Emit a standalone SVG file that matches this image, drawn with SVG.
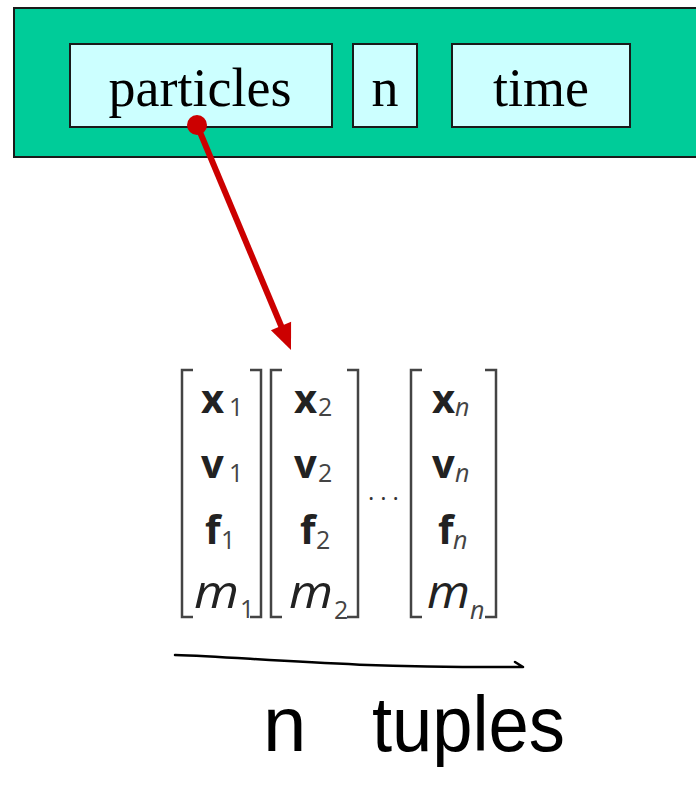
<svg xmlns="http://www.w3.org/2000/svg" width="696" height="791" viewBox="0 0 696 791">
<style>
.box{fill:#CCFFFF;stroke:#1a1a1a;stroke-width:2}
.lbl{font-family:"Liberation Serif",serif;font-size:54px;fill:#000;text-anchor:middle}
.br{fill:none;stroke:#444;stroke-width:2.5}
.vb{font-family:"Open Sans","Noto Sans",sans-serif;font-weight:bold;font-size:40px;fill:#222}
.vm{font-family:"Open Sans","Noto Sans",sans-serif;font-style:italic;font-size:46px;fill:#222}
.sb{font-family:"Open Sans","Noto Sans",sans-serif;font-size:25px;fill:#444}
.si{font-family:"Open Sans","Noto Sans",sans-serif;font-style:italic;font-size:25px;fill:#444}
.hw{font-family:"Liberation Sans",sans-serif;font-size:78px;fill:#000}
</style>
<rect x="0" y="0" width="696" height="791" fill="#fff"/>
<g id="struct">
<rect x="14" y="8" width="690" height="149" fill="#00CC99" stroke="#1a1a1a" stroke-width="2"/>
</g>
<g id="particles"><rect class="box" x="70" y="44" width="262" height="83"/><text class="lbl" x="200" y="106">particles</text></g>
<g id="n"><rect class="box" x="353" y="44" width="64" height="83"/><text class="lbl" x="385" y="106">n</text></g>
<g id="time"><rect class="box" x="452" y="44" width="178" height="83"/><text class="lbl" x="541" y="106">time</text></g>
<g id="connectors">
<circle cx="197" cy="125" r="10" fill="#CC0000"/>
<line x1="197" y1="125" x2="282" y2="328" stroke="#CC0000" stroke-width="6"/>
<polygon points="291,350 270.9,330.2 291.1,321.8" fill="#CC0000"/>
</g>
<g id="tuple1">
<path class="br" d="M193,370 H182 V617 H193"/>
<path class="br" d="M250,370 H261 V617 H250"/>
<text class="vb" x="201" y="413">x</text><text class="sb" x="229" y="416">1</text>
<text class="vb" x="201" y="478">v</text><text class="sb" x="229" y="482">1</text>
<text class="vb" x="205" y="544">f</text><text class="sb" x="221" y="549">1</text>
<text class="vm" x="194" y="608" textLength="45" lengthAdjust="spacingAndGlyphs">m</text><text class="sb" x="240" y="618">1</text>
</g>
<g id="tuple2">
<path class="br" d="M282,370 H271 V617 H282"/>
<path class="br" d="M347,370 H358 V617 H347"/>
<text class="vb" x="294" y="413">x</text><text class="sb" x="318" y="416">2</text>
<text class="vb" x="294" y="478">v</text><text class="sb" x="318" y="482">2</text>
<text class="vb" x="300" y="544">f</text><text class="sb" x="316" y="549">2</text>
<text class="vm" x="289" y="608" textLength="44" lengthAdjust="spacingAndGlyphs">m</text><text class="sb" x="334" y="619">2</text>
</g>
<g id="dots"><text x="368" y="500" font-family="Open Sans,sans-serif" font-size="24" fill="#333" letter-spacing="6">...</text></g>
<g id="tuplen">
<path class="br" d="M422,370 H411 V617 H422"/>
<path class="br" d="M485,370 H496 V617 H485"/>
<text class="vb" x="432" y="413">x</text><text class="si" x="455" y="416">n</text>
<text class="vb" x="432" y="478">v</text><text class="si" x="455" y="482">n</text>
<text class="vb" x="438" y="544">f</text><text class="si" x="453" y="549">n</text>
<text class="vm" x="427" y="608" textLength="43" lengthAdjust="spacingAndGlyphs">m</text><text class="si" x="470" y="619">n</text>
</g>
<g id="annotation">
<path d="M175,655 C250,657 330,668 523,667 M515,662 L523,667" fill="none" stroke="#000" stroke-width="2.5" stroke-linecap="round"/>
<text class="hw" y="751"><tspan x="263">n</tspan><tspan x="372" textLength="193" lengthAdjust="spacingAndGlyphs">tuples</tspan></text>
</g>
</svg>
